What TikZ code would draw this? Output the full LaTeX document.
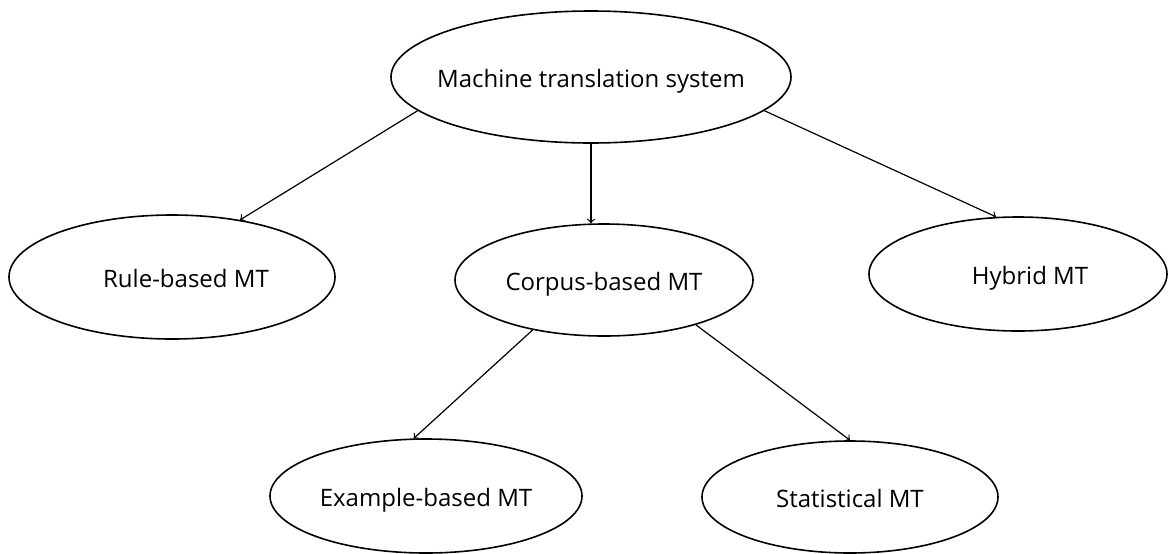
\documentclass[tikz,border=0pt]{standalone}
\usepackage{fontspec}
\setmainfont{Open Sans}
\usetikzlibrary{shapes,arrows}
\tikzstyle{mt} = [ellipse, draw, line width=0.8pt, inner sep=0pt,
text height=13pt, text depth=3pt, font=\fontsize{12}{14}\selectfont]
\tikzstyle{line} = [draw, ->, line width=0.6pt]

\begin{document}
\begin{tikzpicture}[x=0.5pt, y=-0.5pt]
\useasboundingbox (0,0) rectangle (1169,553);

% Place nodes
\node [mt, minimum width=200pt, minimum height=66pt] (mts) at (591,77) {\makebox[0pt]{Machine translation system}};
\node [mt, minimum width=163pt, minimum height=62pt] (rule) at (172,277) {\hspace{14pt}Rule-based MT};
\node [mt, minimum width=149pt, minimum height=56pt] (corpus) at (604,280) {Corpus-based MT};
\node [mt, minimum width=149pt, minimum height=57pt] (hybrid) at (1018,274) {\hspace{12pt}Hybrid MT};
\node [mt, minimum width=156pt, minimum height=57pt] (example) at (426,496) {Example-based MT};
\node [mt, minimum width=148pt, minimum height=56pt] (stat) at (850,497) {Statistical MT};
% Draw edges
\path [line] (mts.191) -- (rule.40);
\path [line] (mts.south) -- (mts.south |- corpus.north);
\path [line] (mts.349) -- (hybrid.111);
\path [line] (corpus.215) -- (example.102);
\path [line] (corpus.334) -- (stat.north);
\end{tikzpicture}
\end{document}
